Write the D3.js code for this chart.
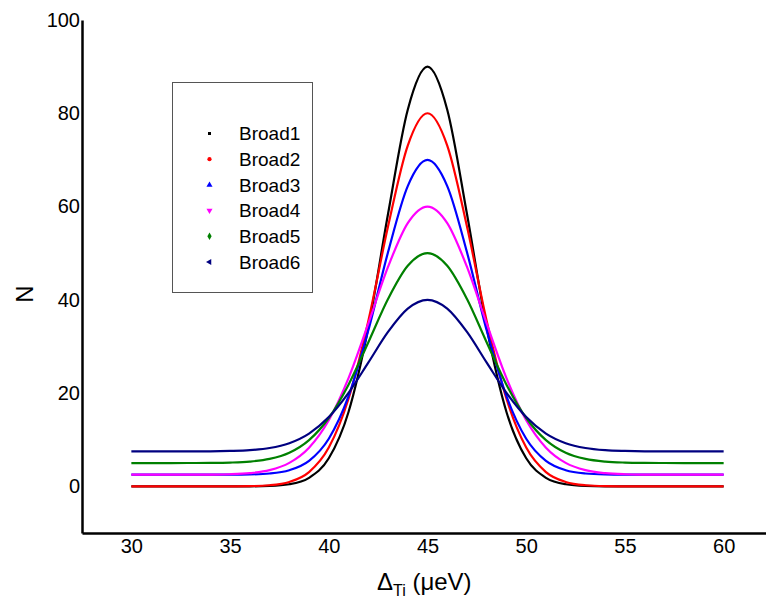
<!DOCTYPE html>
<html>
<head>
<meta charset="utf-8">
<script src="https://cdn.jsdelivr.net/npm/d3@7"></script>
<style>
  body { margin: 0; background: #fff; }
  text { font-family: Arial, "Liberation Sans", sans-serif; }
</style>
</head>
<body>
<script>
// x values (µeV)
const xValues = d3.range(30, 61, 1);

// values, one per x value
const broad1 = [0,0,0,0,0,0,0.01,0.09,0.45,1.83,6.02,15.95,34.0,58.39,80.77,90,80.77,58.39,34.0,15.95,6.02,1.83,0.45,0.09,0.01,0,0,0,0,0,0];
const broad2 = [0,0,0,0,0,0.01,0.05,0.24,0.95,3.07,8.32,18.79,35.42,55.7,73.07,80,73.07,55.7,35.42,18.79,8.32,3.07,0.95,0.24,0.05,0.01,0,0,0,0,0];
const broad3 = [2.5,2.5,2.5,2.5,2.5,2.51,2.56,2.76,3.46,5.47,10.21,19.34,33.41,50.2,64.39,70,64.39,50.2,33.41,19.34,10.21,5.47,3.46,2.76,2.56,2.51,2.5,2.5,2.5,2.5,2.5];
const broad4 = [2.5,2.5,2.5,2.51,2.53,2.6,2.83,3.47,5.03,8.29,14.17,23.22,34.89,47.05,56.45,60,56.45,47.05,34.89,23.22,14.17,8.29,5.03,3.47,2.83,2.6,2.53,2.51,2.5,2.5,2.5];
const broad5 = [5,5,5,5.01,5.03,5.1,5.31,5.88,7.2,9.91,14.66,21.81,30.86,40.18,47.31,50,47.31,40.18,30.86,21.81,14.66,9.91,7.2,5.88,5.31,5.1,5.03,5.01,5,5,5];
const broad6 = [7.5,7.5,7.5,7.51,7.52,7.59,7.76,8.22,9.26,11.32,14.85,20.05,26.53,33.12,38.12,40,38.12,33.12,26.53,20.05,14.85,11.32,9.26,8.22,7.76,7.59,7.52,7.51,7.5,7.5,7.5];

const seriesNames = ["Broad1", "Broad2", "Broad3", "Broad4", "Broad5", "Broad6"];
const seriesValues = [broad1, broad2, broad3, broad4, broad5, broad6];
const colors = ["#000000", "#ff0000", "#0000ff", "#ff00ff", "#008000", "#000080"];

const xTicks = [30, 35, 40, 45, 50, 55, 60];
const yTicks = [0, 20, 40, 60, 80, 100];

const width = 766, height = 604;

const svg = d3.select("body").append("svg")
    .attr("width", width)
    .attr("height", height);

const x = d3.scaleLinear().domain([27.5, 62.5]).range([82, 773]);
const y = d3.scaleLinear().domain([-10, 100]).range([533, 20]);

// curves
const line = d3.line()
    .x(d => x(d[0]))
    .y(d => y(d[1]))
    .curve(d3.curveMonotoneX);

seriesValues.forEach((vals, i) => {
  svg.append("path")
      .datum(xValues.map((xv, j) => [xv, vals[j]]))
      .attr("fill", "none")
      .attr("stroke", colors[i])
      .attr("stroke-width", 2.2)
      .attr("d", line);
});

// axes, no tick marks
const xAxis = svg.append("g")
    .attr("transform", `translate(0,${y(-10)})`)
    .call(d3.axisBottom(x).tickValues(xTicks).tickSize(0).tickPadding(6));
const yAxis = svg.append("g")
    .attr("transform", `translate(${x(27.5)},0)`)
    .call(d3.axisLeft(y).tickValues(yTicks).tickSize(0).tickPadding(2));

[xAxis, yAxis].forEach(g => {
  g.select(".domain").attr("stroke", "#000").attr("stroke-width", 2.5);
  g.selectAll("text")
      .attr("fill", "#000")
      .style("font-size", "20px")
      .style("font-family", "Arial, 'Liberation Sans', sans-serif");
});

// axis titles
const xTitle = svg.append("text")
    .attr("x", 377)
    .attr("y", 590)
    .style("font-size", "24px");
xTitle.append("tspan").text("\u0394");
xTitle.append("tspan").attr("dy", 6).style("font-size", "16px").text("Ti");
xTitle.append("tspan").attr("dy", -6).text(" (\u03bceV)");

svg.append("text")
    .attr("transform", "translate(33,294) rotate(-90)")
    .attr("text-anchor", "middle")
    .style("font-size", "24px")
    .text("N");

// legend
const legend = svg.append("g");
legend.append("rect")
    .attr("x", 172.5)
    .attr("y", 82.5)
    .attr("width", 140)
    .attr("height", 210)
    .attr("fill", "#fff")
    .attr("stroke", "#555")
    .attr("stroke-width", 1);

const symbols = [
  { type: d3.symbolSquare, size: 9, rot: 0 },
  { type: d3.symbolCircle, size: 14, rot: 0 },
  { type: d3.symbolTriangle, size: 16, rot: 0 },
  { type: d3.symbolTriangle, size: 16, rot: 180 },
  { type: d3.symbolDiamond, size: 16, rot: 0 },
  { type: d3.symbolTriangle, size: 16, rot: -90 }
];

seriesNames.forEach((name, i) => {
  const yy = 133.5 + i * 25.7;
  legend.append("path")
      .attr("d", d3.symbol().type(symbols[i].type).size(symbols[i].size))
      .attr("transform", `translate(209.5,${yy}) rotate(${symbols[i].rot})`)
      .attr("fill", colors[i]);
  legend.append("text")
      .attr("x", 239)
      .attr("y", yy)
      .attr("dy", "0.36em")
      .style("font-size", "19px")
      .text(name);
});
</script>
</body>
</html>
